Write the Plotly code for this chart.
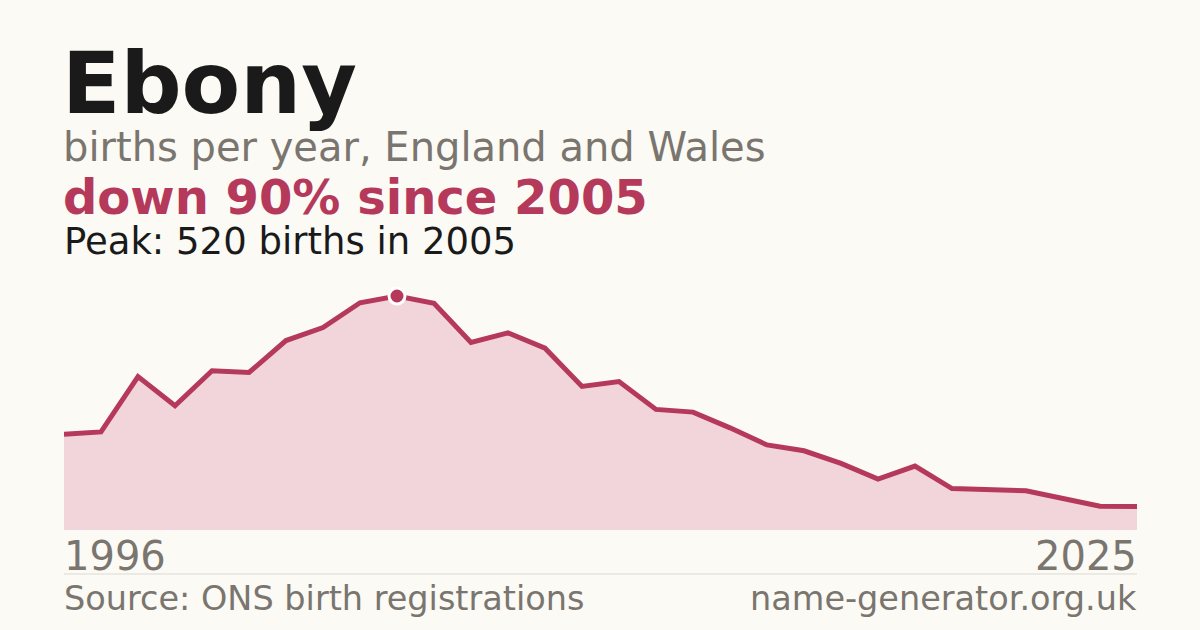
import plotly.graph_objects as go

# births per year for the name
years = list(range(1996, 2026))
births = [213, 218, 341, 276, 354, 350, 421, 450, 505, 520,
          504, 417, 438, 404, 319, 330, 268, 262, 227, 189,
          176, 148, 113, 142, 92, 89, 87, 70, 53, 52]

name = "Ebony"
subtitle = "births per year, England and Wales"
source = "Source: ONS birth registrations"
site = "name-generator.org.uk"

W, H = 1200, 630
bg = "#fbfaf5"
red = "#b5395a"
fill = "#f2d5da"
grey = "#7a756e"
ink = "#1a1a1a"
font = "DejaVu Sans"

peak = max(births)
peak_year = years[births.index(peak)]
drop = round((1 - births[-1] / peak) * 100)

# pixel helpers (margins are zero, so paper == page)
px = lambda x: x / W
py = lambda y: 1 - y / H

fig = go.Figure()
fig.add_scatter(x=years, y=births, mode="lines", fill="tozeroy",
                fillcolor=fill, line=dict(color=red, width=5),
                hoverinfo="skip")
fig.add_scatter(x=[peak_year], y=[peak], mode="markers",
                marker=dict(size=16, color=red, line=dict(color="white", width=3)),
                hoverinfo="skip")

def label(text, x, y, size, color, bold=False, anchor="left"):
    fig.add_annotation(text=f"<b>{text}</b>" if bold else text,
                       x=px(x), y=py(y), xref="paper", yref="paper",
                       xanchor=anchor, yanchor="bottom", showarrow=False,
                       font=dict(family=font, size=size, color=color))

label(name, 60, 135, 85.5, ink, bold=True)
label(subtitle, 61, 172, 40, grey)
label(f"down {drop}% since {peak_year}", 61, 227, 48, red, bold=True)
label(f"Peak: {peak} births in {peak_year}", 62, 265, 37, ink)
label(str(years[0]), 62, 581, 40, grey)
label(str(years[-1]), 1139, 581, 40, grey, anchor="right")
label(source, 62, 620, 33.5, grey)
label(site, 1139, 620, 33.5, grey, anchor="right")

fig.add_shape(type="line", xref="paper", yref="paper",
              x0=px(64), x1=px(1137), y0=py(574), y1=py(574),
              line=dict(color="#dcd9d2", width=1))

fig.update_layout(
    width=W, height=H, showlegend=False,
    paper_bgcolor=bg, plot_bgcolor=bg,
    margin=dict(l=0, r=0, t=0, b=0),
    xaxis=dict(domain=[px(64), px(1137)], range=[years[0], years[-1]],
               visible=False, fixedrange=True),
    yaxis=dict(domain=[py(530), py(280)], range=[0, peak * 250 / 234],
               visible=False, fixedrange=True),
)

# drop the browser's default page margin so the figure fills the window
page_js = f"document.body.style.margin='0';document.body.style.background='{bg}';"
fig.write_html("out.html", config={"displayModeBar": False}, post_script=page_js)
